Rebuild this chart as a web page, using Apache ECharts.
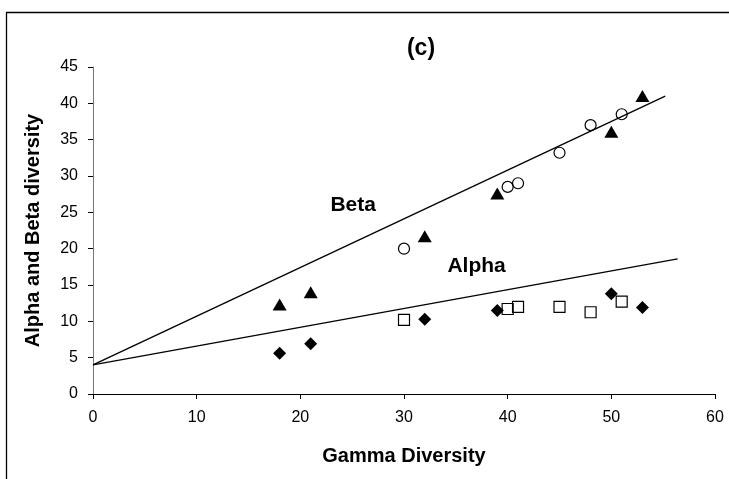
<!DOCTYPE html>
<html>
<head>
<meta charset="utf-8">
<script src="https://cdn.jsdelivr.net/npm/echarts@6/dist/echarts.min.js"></script>
<style>html,body{margin:0;padding:0;background:#fff}#c{width:729px;height:479px}</style>
</head>
<body>
<div id="c"></div>
<script>
// Gamma diversity of each site
const gammaX = [18, 21, 32, 39, 50, 53];
const gammaXOpen = [30, 40, 41, 45, 48, 51];
// Beta diversity values
const betaFilled = [12.3, 14.0, 21.7, 27.6, 36.1, 41.0];
const betaOpen = [20.0, 28.5, 29.0, 33.2, 37.0, 38.5];
// Alpha diversity values
const alphaFilled = [5.6, 6.9, 10.3, 11.5, 13.8, 11.9];
const alphaOpen = [10.2, 11.7, 12.0, 12.0, 11.25, 12.7];
// Fitted lines (start and end points)
const betaLine = [[0, 4], [55.2, 41]];
const alphaLine = [[0, 4], [56.4, 18.6]];
// Line annotations
const annotations = [
  { name: 'Beta', value: [25.1, 26.0] },
  { name: 'Alpha', value: [37.0, 17.6] }
];
const xTicks = { min: 0, max: 60, interval: 10 };
const yTicks = { min: 0, max: 45, interval: 5 };

const pair = (xs, ys) => xs.map((x, i) => [x, ys[i]]);
const FONT = 'Liberation Sans, Arial, sans-serif';

const chart = echarts.init(document.getElementById('c'), null, { renderer: 'canvas' });
chart.setOption({
  animation: false,
  backgroundColor: '#fff',
  title: {
    text: '(c)', left: 416, top: 32, textAlign: 'center',
    textStyle: { fontFamily: FONT, fontWeight: 'bold', fontSize: 23, color: '#000' }
  },
  graphic: [{
    type: 'rect', z: -1,
    shape: { x: 6.5, y: 12.5, width: 1000, height: 1000 },
    style: { fill: 'none', stroke: '#000', lineWidth: 1.3 }
  }],
  grid: { left: 93, right: 14, top: 67, bottom: 85 },
  xAxis: {
    type: 'value', min: xTicks.min, max: xTicks.max, interval: xTicks.interval,
    name: 'Gamma Diversity', nameLocation: 'middle', nameGap: 52,
    nameTextStyle: { fontFamily: FONT, fontWeight: 'bold', fontSize: 20, color: '#000' },
    axisLine: { lineStyle: { color: '#000', width: 1 } },
    axisTick: { show: true, length: 5, inside: false, lineStyle: { color: '#000' } },
    axisLabel: { fontFamily: FONT, fontSize: 16, color: '#000', margin: 16 },
    splitLine: { show: false }
  },
  yAxis: {
    type: 'value', min: yTicks.min, max: yTicks.max, interval: yTicks.interval,
    name: 'Alpha and Beta diversity', nameLocation: 'middle', nameGap: 50,
    nameTextStyle: { fontFamily: FONT, fontWeight: 'bold', fontSize: 20, color: '#000' },
    axisLine: { show: true, lineStyle: { color: '#777', width: 1 } },
    axisTick: { show: true, length: 5, inside: false, lineStyle: { color: '#000' } },
    axisLabel: { fontFamily: FONT, fontSize: 16, color: '#000', margin: 15 },
    splitLine: { show: false }
  },
  series: [
    { type: 'line', data: betaLine, symbol: 'none', lineStyle: { color: '#000', width: 1.3 }, z: 2 },
    { type: 'line', data: alphaLine, symbol: 'none', lineStyle: { color: '#000', width: 1.3 }, z: 2 },
    { type: 'scatter', data: pair(gammaX, betaFilled), symbol: 'triangle', symbolSize: [14, 12],
      itemStyle: { color: '#000', opacity: 1 }, z: 3 },
    { type: 'scatter', data: pair(gammaXOpen, betaOpen), symbol: 'circle', symbolSize: 11,
      itemStyle: { color: 'rgba(0,0,0,0)', borderColor: '#000', borderWidth: 1.2, opacity: 1 }, z: 3 },
    { type: 'scatter', data: pair(gammaX, alphaFilled), symbol: 'diamond', symbolSize: [13, 13],
      itemStyle: { color: '#000', opacity: 1 }, z: 3 },
    { type: 'scatter', data: pair(gammaXOpen, alphaOpen), symbol: 'rect', symbolSize: 11,
      itemStyle: { color: 'rgba(0,0,0,0)', borderColor: '#000', borderWidth: 1.2, opacity: 1 }, z: 3 },
    { type: 'scatter', data: annotations, symbolSize: 0, z: 4,
      itemStyle: { opacity: 1 },
      label: { show: true, position: 'inside', formatter: p => p.name, textBorderWidth: 0,
        fontFamily: FONT, fontWeight: 'bold', fontSize: 21, color: '#000' } }
  ]
});
</script>
</body>
</html>
